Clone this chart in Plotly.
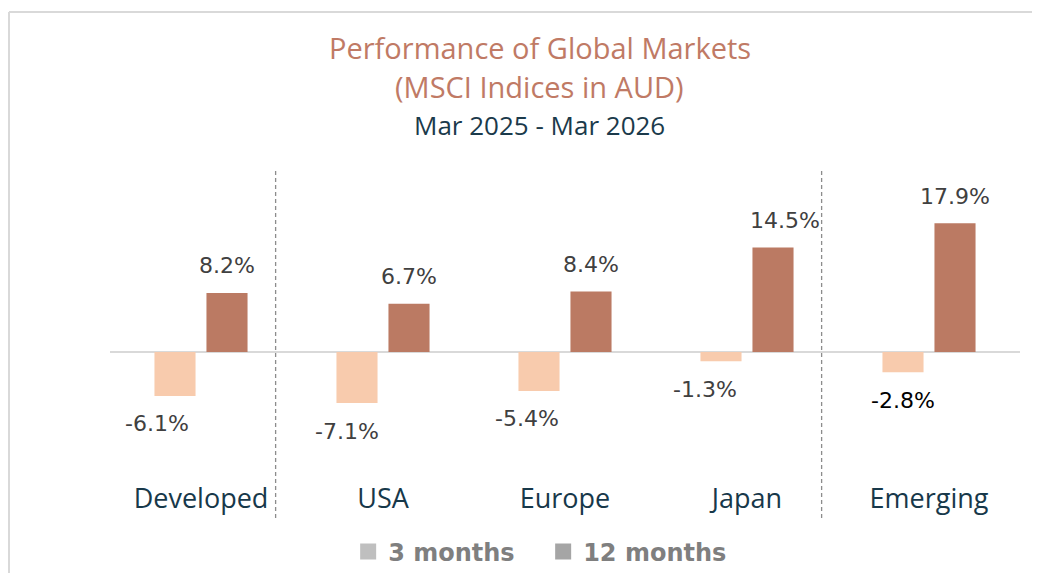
import plotly.graph_objects as go

categories = ["Developed", "USA", "Europe", "Japan", "Emerging"]
three_months = [-6.1, -7.1, -5.4, -1.3, -2.8]
twelve_months = [8.2, 6.7, 8.4, 14.5, 17.9]
series_names = ["3 months", "12 months"]

C3 = "#F8CBAD"
C12 = "#BB7A63"
LABEL = "#404040"

fig = go.Figure()
fig.add_trace(go.Bar(x=categories, y=three_months, marker_color=C3, showlegend=False,
                     marker_line_width=0, hoverinfo="skip"))
fig.add_trace(go.Bar(x=categories, y=twelve_months, marker_color=C12, showlegend=False,
                     marker_line_width=0, hoverinfo="skip"))
# legend entries (grey swatches as in reference)
for name, col in zip(series_names, ["#BFBFBF", "#A5A5A5"]):
    fig.add_trace(go.Scatter(x=[None], y=[None], mode="markers", name=name,
                             marker=dict(symbol="square", size=17, color=col)))

# data labels
nudge3 = [-18, -10, -12, -16, 0]
nudge12 = [0, 0, 0, 12, 0]
for i, c in enumerate(categories):
    v = three_months[i]
    fig.add_annotation(x=c, y=v, text=f"{v:.1f}%", showarrow=False, xshift=-26 + nudge3[i],
                       yshift=-28, font=dict(family="DejaVu Sans", size=22,
                                             color="#000000" if c == "Emerging" else LABEL))
    v = twelve_months[i]
    fig.add_annotation(x=c, y=v, text=f"{v:.1f}%", showarrow=False, xshift=26 + nudge12[i],
                       yshift=27, font=dict(family="DejaVu Sans", size=22, color=LABEL))

# titles
titles = [("Performance of Global Markets", "#C07A65", 1.353, 29),
          ("(MSCI Indices in AUD)", "#C07A65", 1.231, 29),
          ("Mar 2025 - Mar 2026", "#1B3A4B", 1.109, 26)]
for t, col, yy, fs in titles:
    fig.add_annotation(xref="paper", yref="paper", x=0.4725, y=yy, text=t, showarrow=False,
                       xanchor="center", yanchor="middle",
                       font=dict(family="Open Sans", size=fs, color=col))

# dashed separators
for xv in [0.41, 3.41]:
    fig.add_shape(type="line", xref="x", yref="paper", x0=xv, x1=xv, y0=-0.119, y1=0.975,
                  line=dict(color="#8C8C8C", width=1.3, dash="4px,3px"))

# chart border (top and left)
fig.add_shape(type="line", xref="paper", yref="paper", x0=-0.111, x1=1.04, y0=1.4625, y1=1.4625,
              line=dict(color="#D9D9D9", width=2))
fig.add_shape(type="line", xref="paper", yref="paper", x0=-0.111, x1=-0.111, y0=1.4625, y1=-0.3,
              line=dict(color="#D9D9D9", width=2))

fig.update_layout(
    width=1032, height=565,
    margin=dict(l=102, r=20, t=152, b=93, autoexpand=False),
    paper_bgcolor="white", plot_bgcolor="white",
    barmode="group", bargap=0.4286, bargroupgap=0.21,
    showlegend=True,
    legend=dict(orientation="h", x=0.476, xanchor="center", y=-0.225, yanchor="middle",
                font=dict(family="DejaVu Sans", size=24, color="#7F7F7F", weight="bold"),
                itemsizing="trace", entrywidth=150),
    xaxis=dict(showline=False, ticks="", showgrid=False,
               tickfont=dict(family="Open Sans", size=27, color="#17384A")),
    yaxis=dict(range=[-17.78, 26.67], showgrid=False, showticklabels=False, ticks="",
               zeroline=True, zerolinecolor="#D9D9D9", zerolinewidth=2),
)

fig.write_html("out.html")
